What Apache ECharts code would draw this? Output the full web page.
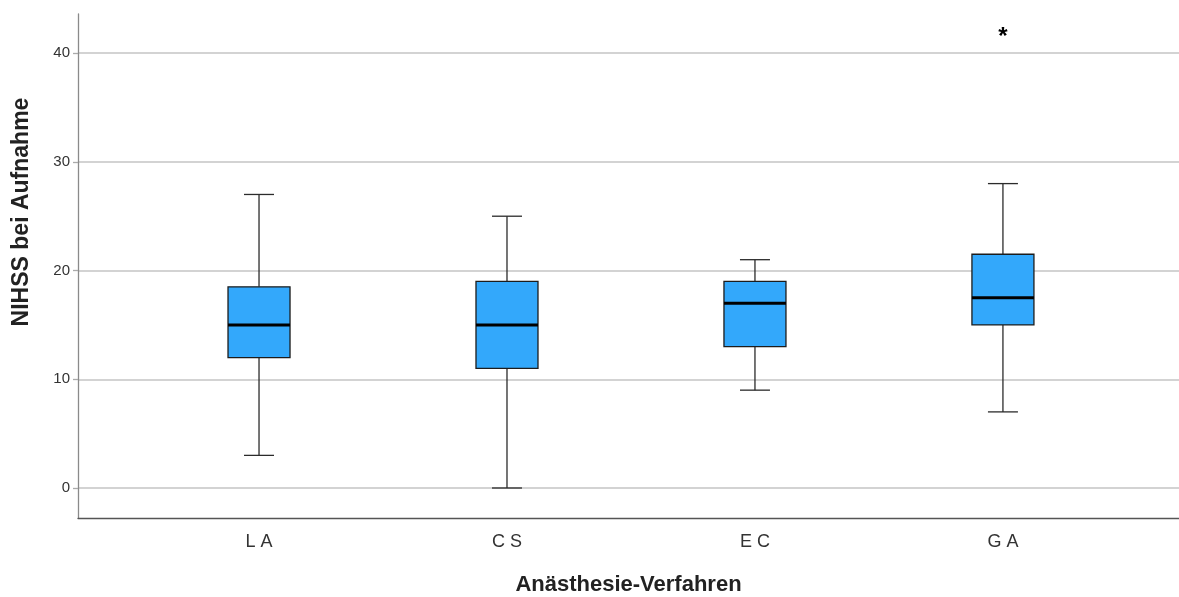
<!DOCTYPE html>
<html>
<head>
<meta charset="utf-8">
<script src="https://cdn.jsdelivr.net/npm/echarts@6/dist/echarts.min.js"></script>
<style>
	html, body { margin: 0; padding: 0; background: #fff; }
	#boxChart { width: 1179px; height: 597px; }
</style>
</head>
<body>
<div id="boxChart"></div>
<script>
// Anästhesie-Verfahren vs NIHSS bei Aufnahme
const categories = ['LA', 'CS', 'EC', 'GA'];
const whiskerLow = [3, 0, 9, 7];
const quartile1 = [12, 11, 13, 15];
const medians = [15, 15, 17, 17.5];
const quartile3 = [18.5, 19, 19, 21.5];
const whiskerHigh = [27, 25, 21, 28];
const outliers = [[3, 42]]; // [category index, value]
const yTicks = [0, 10, 20, 30, 40];

const fontFamily = '"Liberation Sans", Arial, sans-serif';

var chartDom = document.getElementById('boxChart');
var myChart = echarts.init(chartDom, null, { renderer: 'canvas', devicePixelRatio: 1 });

const boxData = categories.map((c, i) => [i, whiskerLow[i], quartile1[i], medians[i], quartile3[i], whiskerHigh[i]]);

const renderBox = (params, api) => {
	const x = api.value(0);
	const low = api.coord([x, api.value(1)]);
	const q1 = api.coord([x, api.value(2)]);
	const med = api.coord([x, api.value(3)]);
	const q3 = api.coord([x, api.value(4)]);
	const high = api.coord([x, api.value(5)]);
	const cx = low[0];
	const boxHalf = 31;
	const capHalf = 15;
	const whisker = { stroke: '#2b2b2b', lineWidth: 1.3 };
	return {
		type: 'group',
		children: [
			{ type: 'line', shape: { x1: cx, y1: q1[1], x2: cx, y2: low[1] }, style: whisker },
			{ type: 'line', shape: { x1: cx, y1: q3[1], x2: cx, y2: high[1] }, style: whisker },
			{ type: 'line', shape: { x1: cx - capHalf, y1: low[1], x2: cx + capHalf, y2: low[1] }, style: whisker },
			{ type: 'line', shape: { x1: cx - capHalf, y1: high[1], x2: cx + capHalf, y2: high[1] }, style: whisker },
			{
				type: 'rect',
				shape: { x: cx - boxHalf, y: q3[1], width: boxHalf * 2, height: q1[1] - q3[1] },
				style: { fill: '#33a8fb', stroke: '#1c1c1c', lineWidth: 1.3 }
			},
			{
				type: 'line',
				shape: { x1: cx - boxHalf, y1: med[1], x2: cx + boxHalf, y2: med[1] },
				style: { stroke: '#000', lineWidth: 3 }
			}
		]
	};
};

const renderOutlier = (params, api) => {
	const p = api.coord([api.value(0), api.value(1)]);
	return {
		type: 'text',
		x: p[0],
		y: p[1] + 6,
		style: {
			text: '*',
			font: 'bold 24px ' + fontFamily,
			fill: '#000',
			align: 'center',
			verticalAlign: 'middle'
		}
	};
};

var option = {
	backgroundColor: '#fff',
	animation: false,
	grid: {
		left: 78,
		right: 0,
		top: 14,
		bottom: 79,
		containLabel: false,
		outerBoundsMode: 'none'
	},
	xAxis: {
		type: 'value',
		min: -0.73,
		max: 3.71,
		splitNumber: 4,
		name: 'Anästhesie-Verfahren',
		nameLocation: 'middle',
		nameGap: 56,
		nameTextStyle: { fontFamily: fontFamily, fontSize: 22, fontWeight: 'bold', color: '#222' },
		axisLine: { show: true, onZero: false, lineStyle: { color: '#555', width: 1.3 } },
		axisTick: { show: false },
		splitLine: { show: false },
		axisLabel: {
			margin: 15,
			fontFamily: fontFamily,
			fontSize: 18,
			color: '#333',
			showMinLabel: false,
			showMaxLabel: false,
			formatter: v => (Number.isInteger(v) && categories[v]) ? categories[v].split('').join(' ') : ''
		}
	},
	yAxis: {
		type: 'value',
		min: -2.76,
		max: 43.6,
		splitNumber: 5,
		name: 'NIHSS bei Aufnahme',
		nameLocation: 'middle',
		nameGap: 45,
		nameTextStyle: {
			fontFamily: fontFamily,
			fontSize: 23,
			fontWeight: 'bold',
			color: '#222',
			padding: [0, 0, 0, 108]
		},
		axisLine: { show: true, onZero: false, lineStyle: { color: '#8a8a8a', width: 1.3 } },
		axisTick: { show: true, length: 5, lineStyle: { color: '#aaa', width: 1.3 } },
		splitLine: {
			show: true,
			showMinLine: false,
			showMaxLine: false,
			lineStyle: { color: '#c4c4c4', width: 1.5 }
		},
		axisLabel: {
			margin: 8,
			fontFamily: fontFamily,
			fontSize: 15,
			color: '#333',
			showMinLabel: false,
			showMaxLabel: false,
			formatter: v => yTicks.indexOf(v) >= 0 ? String(v) : ''
		}
	},
	series: [
		{
			type: 'custom',
			name: 'box',
			renderItem: renderBox,
			encode: { x: 0, y: [1, 2, 3, 4, 5] },
			data: boxData,
			z: 3
		},
		{
			type: 'custom',
			name: 'outlier',
			renderItem: renderOutlier,
			encode: { x: 0, y: 1 },
			data: outliers,
			z: 4
		}
	]
};

option && myChart.setOption(option);
</script>
</body>
</html>
